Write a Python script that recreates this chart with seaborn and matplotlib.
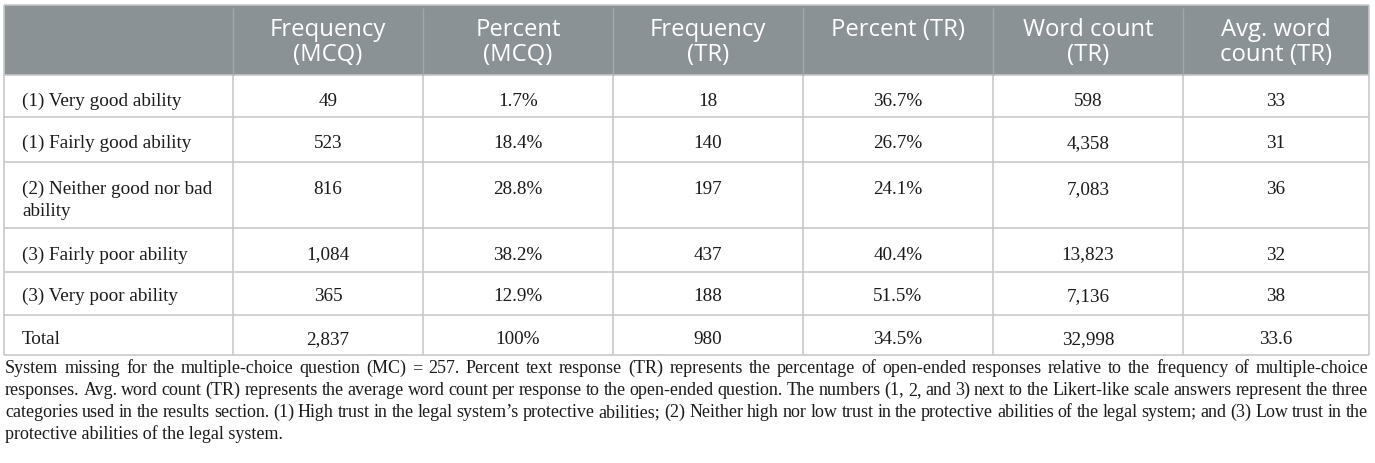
import matplotlib
matplotlib.use("Agg")
import matplotlib.pyplot as plt
import seaborn as sns

# ---------------- data ----------------
headers = ["", "Frequency\n(MCQ)", "Percent\n(MCQ)", "Frequency\n(TR)",
           "Percent (TR)", "Word count\n(TR)", "Avg. word\ncount (TR)"]
categories = ["(1) Very good ability", "(1) Fairly good ability",
              "(2) Neither good nor bad\nability", "(3) Fairly poor ability",
              "(3) Very poor ability", "Total"]
freq_mcq = ["49", "523", "816", "1,084", "365", "2,837"]
pct_mcq = ["1.7%", "18.4%", "28.8%", "38.2%", "12.9%", "100%"]
freq_tr = ["18", "140", "197", "437", "188", "980"]
pct_tr = ["36.7%", "26.7%", "24.1%", "40.4%", "51.5%", "34.5%"]
word_count = ["598", "4,358", "7,083", "13,823", "7,136", "32,998"]
avg_word_count = ["33", "31", "36", "32", "38", "33.6"]
caption_lines = [
    "System missing for the multiple-choice question (MC) = 257. Percent text response (TR) represents the percentage of open-ended responses relative to the frequency of multiple-choice",
    "responses. Avg. word count (TR) represents the average word count per response to the open-ended question. The numbers (1, 2, and 3) next to the Likert-like scale answers represent the three",
    "categories used in the results section. (1) High trust in the legal system\u2019s protective abilities; (2) Neither high nor low trust in the protective abilities of the legal system; and (3) Low trust in the",
    "protective abilities of the legal system.",
]

# ---------------- layout (pixels) ----------------
W, H = 1375, 463
col_edges = [4, 233, 423, 613, 803, 993, 1183, 1369]
row_edges = [4.5, 75, 117, 162, 228, 272, 315, 355]
header_baselines = [36, 61]
row_baseline_offsets = [30.5, 31, 32, 31.5, 29, 29]
body_line_gap = 22
cap_left, cap_right = 5, 1368
cap_base0, cap_dy = 373, 22

header_bg = "#8b9296"
grid_col = "#c6c8c9"
header_div = "#a3a8ab"
text_col = "#1a1a1a"

sns.set_theme(style="white")
plt.rcParams["font.family"] = ["Liberation Serif", "DejaVu Serif"]

fig = plt.figure(figsize=(W / 100, H / 100), dpi=100)
ax = fig.add_axes([0, 0, 1, 1])
ax.set_xlim(0, W)
ax.set_ylim(H, 0)
ax.axis("off")

# header background
ax.fill_between([col_edges[0], col_edges[-1]], row_edges[0], row_edges[1],
                color=header_bg, lw=0, zorder=1)

# grid lines
ax.hlines(row_edges, col_edges[0], col_edges[-1], colors=grid_col, lw=1.2, zorder=3)
ax.vlines([col_edges[0], col_edges[-1]], row_edges[0], row_edges[-1],
          colors=grid_col, lw=1.2, zorder=3)
ax.vlines(col_edges[1:-1], row_edges[1], row_edges[-1], colors=grid_col, lw=1.2, zorder=3)
ax.vlines(col_edges[1:-1], row_edges[0] + 3, row_edges[1], colors=header_div, lw=1.0, zorder=3)

# header text
for ci, h in enumerate(headers):
    if not h:
        continue
    xc = (col_edges[ci] + col_edges[ci + 1]) / 2
    for li, part in enumerate(h.split("\n")):
        ax.text(xc, header_baselines[li], part, ha="center", va="baseline",
                color="white", fontsize=17.2, family=["Open Sans", "DejaVu Sans"],
                zorder=4)

# body
columns = [freq_mcq, pct_mcq, freq_tr, pct_tr, word_count, avg_word_count]
body_fs = 13.8
for ri, cat in enumerate(categories):
    yb = row_edges[ri + 1] + row_baseline_offsets[ri]
    for li, part in enumerate(cat.split("\n")):
        ax.text(col_edges[0] + 18, yb + li * body_line_gap, part, ha="left",
                va="baseline", fontsize=body_fs, color=text_col, zorder=4)
    for ci, col in enumerate(columns):
        xc = (col_edges[ci + 1] + col_edges[ci + 2]) / 2
        ax.text(xc, yb, col[ri], ha="center", va="baseline", fontsize=body_fs,
                color=text_col, zorder=4)

# caption (justified)
fig.canvas.draw()
renderer = fig.canvas.get_renderer()
cap_fs = 13.0
for li, line in enumerate(caption_lines):
    y = cap_base0 + li * cap_dy
    if li == len(caption_lines) - 1:
        ax.text(cap_left, y, line, ha="left", va="baseline", fontsize=cap_fs,
                color=text_col)
        continue
    words = line.split(" ")
    texts = [ax.text(0, y, w, ha="left", va="baseline", fontsize=cap_fs,
                     color=text_col) for w in words]
    widths = [t.get_window_extent(renderer).width for t in texts]
    gap = (cap_right - cap_left - sum(widths)) / (len(words) - 1)
    x = cap_left
    for t, w in zip(texts, widths):
        t.set_x(x)
        x += w + gap

fig.savefig("out.png", dpi=100, facecolor="white")
